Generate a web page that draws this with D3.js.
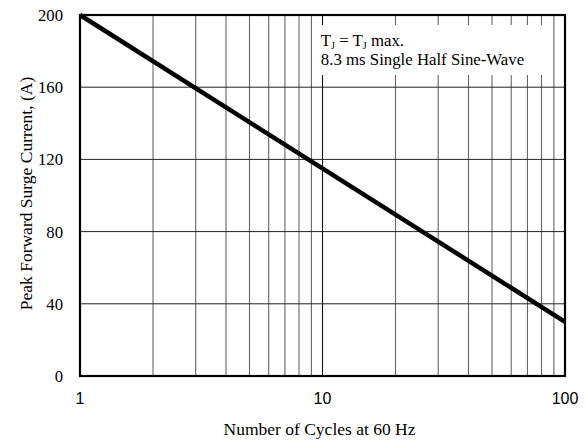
<!DOCTYPE html>
<meta charset="utf-8">
<script src="https://d3js.org/d3.v7.min.js"></script>
<style>
  body { margin: 0; background: #fff; }
</style>
<div id="chart"></div>
<script>
    // data
    var cycles = [1, 100];
    var surgeCurrent = [200, 30];
    var yTicks = [0, 40, 80, 120, 160, 200];
    var xTicks = [1, 10, 100];
    var xGrid = [2, 3, 4, 5, 6, 7, 8, 9, 10, 20, 30, 40, 50, 60, 70, 80, 90];
    var noteLines = ["8.3 ms Single Half Sine-Wave"];

    var margin = { top: 15, right: 22, bottom: 66, left: 80 },
        width = 587 - margin.left - margin.right,
        height = 442 - margin.top - margin.bottom;

    var serif = "Liberation Serif, Times New Roman, serif";

    var svg = d3.select("#chart").append("svg")
        .attr("width", 587)
        .attr("height", 442)
        .append("g")
        .attr("transform", "translate(" + margin.left + "," + margin.top + ")");

    var x = d3.scaleLog().domain([1, 100]).range([0, width]);
    var y = d3.scaleLinear().domain([0, 200]).range([height, 0]);

    // grid
    svg.selectAll(".vgrid").data(xGrid).enter().append("line")
        .attr("x1", d => x(d)).attr("x2", d => x(d))
        .attr("y1", 0).attr("y2", height)
        .attr("stroke", d => d == 10 ? "#111" : "#666")
        .attr("stroke-width", 1.1);
    svg.selectAll(".hgrid").data(yTicks.slice(1, -1)).enter().append("line")
        .attr("x1", 0).attr("x2", width)
        .attr("y1", d => y(d)).attr("y2", d => y(d))
        .attr("stroke", "#222")
        .attr("stroke-width", 1);

    // note box (white, covers grid)
    var boxX = x(9.3);
    svg.append("rect")
        .attr("x", boxX).attr("y", 10)
        .attr("width", x(90) - boxX - 2).attr("height", 50)
        .attr("fill", "#fff");

    var note = svg.append("text")
        .attr("x", boxX + 6).attr("y", 31)
        .attr("font-family", serif)
        .attr("font-size", 16.8);
    note.append("tspan").text("T");
    note.append("tspan").attr("font-size", 10).attr("dy", 2.5).text("J");
    note.append("tspan").attr("dy", -2.5).text(" = T");
    note.append("tspan").attr("font-size", 10).attr("dy", 2.5).text("J");
    note.append("tspan").attr("dy", -2.5).text(" max.");
    svg.selectAll(".note2").data(noteLines).enter().append("text")
        .attr("x", boxX + 6).attr("y", 50)
        .attr("font-family", serif)
        .attr("font-size", 16.8)
        .text(d => d);

    // curve
    var pts = cycles.map((c, i) => ({ c: c, v: surgeCurrent[i] }));
    svg.append("path")
        .datum(pts)
        .attr("fill", "none")
        .attr("stroke", "#000")
        .attr("stroke-width", 4.5)
        .attr("d", d3.line().x(d => x(d.c)).y(d => y(d.v)));

    // frame
    svg.append("rect")
        .attr("x", 0).attr("y", 0)
        .attr("width", width).attr("height", height)
        .attr("fill", "none")
        .attr("stroke", "#000")
        .attr("stroke-width", 2.2);

    // y tick labels
    svg.selectAll(".ylab").data(yTicks).enter().append("text")
        .attr("x", -17).attr("y", d => y(d) + 6)
        .attr("text-anchor", "end")
        .attr("font-family", serif)
        .attr("font-size", 16.7)
        .text(d => d);

    // x tick labels
    svg.selectAll(".xlab").data(xTicks).enter().append("text")
        .attr("x", d => x(d)).attr("y", height + 28)
        .attr("text-anchor", "middle")
        .attr("font-family", "Liberation Sans, Arial, sans-serif")
        .attr("font-size", 16)
        .text(d => d);

    // axis titles
    svg.append("text")
        .attr("x", width / 2 - 3).attr("y", height + 59)
        .attr("text-anchor", "middle")
        .attr("font-family", serif)
        .attr("font-size", 17.5)
        .text("Number of Cycles at 60 Hz");
    svg.append("text")
        .attr("transform", "rotate(-90)")
        .attr("x", -height / 2 + 2).attr("y", -48)
        .attr("text-anchor", "middle")
        .attr("font-family", serif)
        .attr("font-size", 17.5)
        .text("Peak Forward Surge Current, (A)");
</script>
